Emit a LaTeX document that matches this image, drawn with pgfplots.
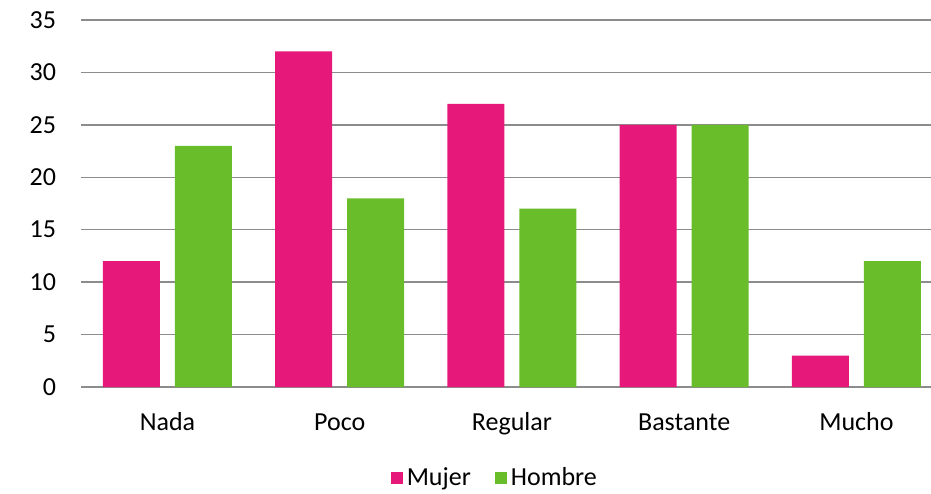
\documentclass[border=0pt]{standalone}
\usepackage{pgfplots}
\pgfplotsset{compat=1.18}
\usetikzlibrary{calc}
\usepackage{fontspec}
\setmainfont{Carlito}
\definecolor{mujer}{HTML}{E6197A}
\definecolor{hombre}{HTML}{6ABD2A}
\definecolor{gridgray}{HTML}{8C8C8C}

\begin{document}
\fontsize{13}{15}\selectfont
\begin{tikzpicture}
\begin{axis}[
  scale only axis,
  width=425pt, height=183.5pt,
  ybar=7.5pt, bar width=28.5pt,
  xmin=-0.502, xmax=4.433,
  ymin=0, ymax=35,
  ytick={0,5,...,35},
  xtick=data,
  xticklabels={Nada,Poco,Regular,Bastante,Mucho},
  axis line style={draw=none},
  major tick length=0pt,
  ymajorgrids,
  grid style={gridgray, line width=0.75pt},
  tick label style={font=\fontsize{13}{15}\selectfont},
  yticklabel style={xshift=-8pt},
  xticklabel style={anchor=base, yshift=-21.5pt},
  /pgf/number format/assume math mode=true,
  legend style={at={(0.488,-0.248)}, anchor=center, draw=none, legend columns=2,
    font=\fontsize{13}{15}\selectfont,
    /tikz/every even column/.append style={column sep=10pt}},
  legend image code/.code={\fill[#1] (-1pt,-3pt) rectangle (5pt,3pt);},
]
\addplot[fill=mujer, draw=none] coordinates {(0,12)(1,32)(2,27)(3,25)(4,3)};
\addplot[fill=hombre, draw=none] coordinates {(0,23)(1,18)(2,17)(3,25)(4,12)};
\legend{Mujer,Hombre}
\end{axis}
\pgfresetboundingbox
\path ($(current axis.south west)+(-40.5pt,-53pt)$) rectangle ($(current axis.north east)+(0pt,10pt)$);
\end{tikzpicture}
\end{document}
